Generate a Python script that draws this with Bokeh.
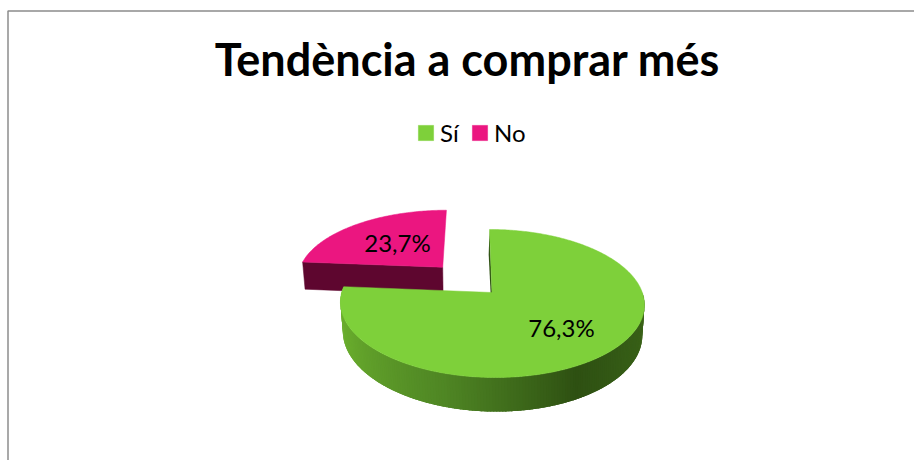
import math
from bokeh.embed import file_html
from bokeh.resources import INLINE
from bokeh.plotting import figure
from bokeh.models import Legend, LegendItem
from bokeh.core.properties import value

categories = ["Sí", "No"]
shares = [76.3, 23.7]
title_text = "Tendència a comprar més"
top_colors = ["#7ED03A", "#EB1680"]
wall_colors = ["#2F5213", "#5E062F"]
explode = [0.0, 0.5]
label_pos = [(561, 327), (397, 242)]

# projection of the unit pie disc to the page (tilted camera)
CX, B, A, C, K = 491.5, 292.0, -29.0, 0.1486, 150.3
H, KB, E_TOP, E_BOT = 29.0, 0.985, -2.87, -3.8


def top(u, v):
    d = 1 + C * v
    return CX + (K * u + E_TOP * v) / d, (A * v + B) / d


def bottom(u, v):
    d = 1 + C * v
    return CX + (K * KB * u + E_BOT * v) / d, (A * v + B + H) / d


def hexlerp(a, b, t):
    ca = [int(a[i:i + 2], 16) for i in (1, 3, 5)]
    cb = [int(b[i:i + 2], 16) for i in (1, 3, 5)]
    return "#%02x%02x%02x" % tuple(round(x + (y - x) * t) for x, y in zip(ca, cb))


side_stops = [(0, "#3C6419"), (35, "#355C16"), (60, "#2E5012"), (105, "#4F8624"), (150, "#66A82C"), (190, "#72B832")]


def side_color(deg):
    """deg: clockwise from the pie's right-most point"""
    for (d0, c0), (d1, c1) in zip(side_stops, side_stops[1:]):
        if deg <= d1:
            return hexlerp(c0, c1, (deg - d0) / (d1 - d0))
    return side_stops[-1][1]


p = figure(width=914, height=460, x_range=(0, 914), y_range=(460, 0),
           output_backend="svg", toolbar_location=None, min_border=0,
           x_axis_location=None, y_axis_location=None)
p.grid.visible = False
p.outline_line_color = None
p.background_fill_color = "#FFFFFF"

# frame of the chart area
p.line([7.5, 7.5, 914], [460, 10.5, 10.5], line_color="#8C8C8C", line_width=1.5)

# slice angles come from the values (clockwise from 12 o'clock)
total = sum(shares)
spans = []
start = 0.0
for s in shares:
    end = start + s / total * 360
    spans.append((start, end))
    start = end


def disc(a):
    r = math.radians(a)
    return math.sin(r), math.cos(r)


# No slice, exploded and behind
a0, a1 = spans[1]
mid = disc((a0 + a1) / 2)
ou, ov = mid[0] * explode[1], mid[1] * explode[1]
lu, lv = disc(a0)
pts = [bottom(ou, ov), bottom(ou + lu, ov + lv), top(ou + lu, ov + lv), top(ou, ov)]
p.patch([q[0] for q in pts], [q[1] for q in pts], fill_color=wall_colors[1], line_color=wall_colors[1], line_width=0.5)
arc = [top(ou + disc(a)[0], ov + disc(a)[1]) for a in [a0 + (a1 - a0) * i / 90 for i in range(91)]]
poly = [top(ou, ov)] + arc
r_no = p.patch([q[0] for q in poly], [q[1] for q in poly], fill_color=top_colors[1], line_color=top_colors[1], line_width=0.5)

# Sí slice: inner wall, rim, top
a0, a1 = spans[0]
pts = [top(0, 0), top(0, 1), bottom(0, 1), bottom(0, 0)]
p.patch([q[0] for q in pts], [q[1] for q in pts], fill_color=wall_colors[0], line_color=None)

# rim: drawn from the left end backwards, each piece overlapping the next to hide seams
xs, ys, cols = [], [], []
deg = a1 - 1.0
while deg > 89.0:
    lo = max(deg, 90.0)
    hi = min(deg + 2.5, a1)
    steps = [lo + (hi - lo) * i / 4 for i in range(5)]
    t_pts = [top(*disc(a)) for a in steps]
    b_pts = [bottom(*disc(a)) for a in reversed(steps)]
    quad = t_pts + b_pts
    xs.append([q[0] for q in quad])
    ys.append([q[1] for q in quad])
    cols.append(side_color(lo - 90))
    deg -= 1.0
p.patches(xs, ys, fill_color=cols, line_color=None)

arc = [top(*disc(a0 + (a1 - a0) * i / 360)) for i in range(361)]
poly = [top(0, 0)] + arc
r_si = p.patch([q[0] for q in poly], [q[1] for q in poly], fill_color=top_colors[0], line_color=top_colors[0], line_width=0.5)

# value labels
p.text([q[0] for q in label_pos], [q[1] for q in label_pos],
       text=[f"{s:.1f}".replace(".", ",") + "%" for s in shares],
       text_font=value("Lato"), text_font_size="24px", text_color="#000000",
       text_align="center", text_baseline="middle")

# title
p.text([467], [58], text=[title_text], text_font=value("Lato"), text_font_size="45px",
       text_font_style="bold", text_color="#000000", text_align="center", text_baseline="middle")

legend = Legend(items=[LegendItem(label=categories[0], renderers=[r_si]),
                       LegendItem(label=categories[1], renderers=[r_no])],
                orientation="horizontal", location=(416, 313),
                background_fill_alpha=0, border_line_color=None,
                label_text_font="Lato", label_text_font_size="24px", label_text_color="#000000",
                glyph_width=19, glyph_height=19, spacing=10, label_standoff=5,
                padding=6, margin=0)
p.add_layout(legend, "center")

open("out.html", "w").write(file_html(p, INLINE))
